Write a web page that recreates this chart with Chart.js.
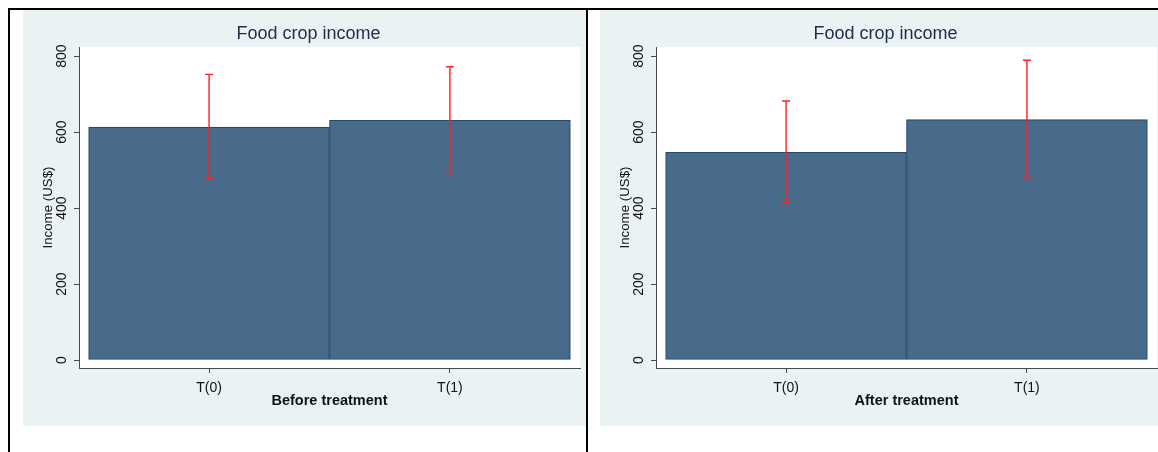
<!DOCTYPE html>
<html>
<head>
<meta charset="utf-8">
<script src="https://cdn.jsdelivr.net/npm/chart.js@4/dist/chart.umd.min.js"></script>
<style>
  html, body { margin: 0; padding: 0; background: #fff; width: 1158px; height: 452px; overflow: hidden; position: relative; }
  canvas { position: absolute; background: #eaf2f3; }
  #before { left: 23px; top: 10px; }
  #after { left: 600px; top: 10px; }
  .rule { position: absolute; background: #000; }
</style>
</head>
<body>
<div class="rule" style="left:8px; top:8px; width:1150px; height:2px;"></div>
<div class="rule" style="left:8px; top:8px; width:2px; height:444px;"></div>
<div class="rule" style="left:586px; top:8px; width:2px; height:444px;"></div>
<canvas id="before" width="563" height="416"></canvas>
<canvas id="after" width="563" height="416"></canvas>
<script>
const groups = ['T(0)', 'T(1)'];
const yTicks = [0, 200, 400, 600, 800];

// mean income with confidence bounds, before treatment
const beforeMean = [613, 631];
const beforeLow = [477, 492];
const beforeHigh = [752, 772];

// after treatment
const afterMean = [547, 633];
const afterLow = [415, 476];
const afterHigh = [682, 789];

const FONT = "'Liberation Sans', Arial, sans-serif";
const AXIS = '#4a4a4a';

// white plot region behind the bars
const plotBg = {
  id: 'plotBg',
  beforeDraw(chart) {
    const { ctx, chartArea: a } = chart;
    ctx.save();
    ctx.fillStyle = '#ffffff';
    ctx.fillRect(a.left, a.top, a.right - a.left, a.bottom - a.top);
    ctx.restore();
  }
};

// red capped range lines on top of each bar
const rangeBars = {
  id: 'rangeBars',
  afterDatasetsDraw(chart, args, opts) {
    const { ctx, scales: { x, y } } = chart;
    ctx.save();
    ctx.strokeStyle = '#ff1f1f';
    ctx.lineWidth = 1.4;
    opts.low.forEach((lo, i) => {
      const px = x.getPixelForValue(i);
      const yLo = y.getPixelForValue(lo);
      const yHi = y.getPixelForValue(opts.high[i]);
      ctx.beginPath();
      ctx.moveTo(px, yLo); ctx.lineTo(px, yHi);
      ctx.moveTo(px - 4, yLo); ctx.lineTo(px + 4, yLo);
      ctx.moveTo(px - 4, yHi); ctx.lineTo(px + 4, yHi);
      ctx.stroke();
    });
    ctx.restore();
  }
};

function makeChart(id, means, low, high, xTitle) {
  new Chart(document.getElementById(id), {
    type: 'bar',
    data: {
      datasets: [{
        data: means.map((v, i) => ({ x: i, y: v })),
        backgroundColor: '#486a8b',
        borderColor: '#244a6d',
        borderWidth: 1.2,
        borderSkipped: false,
        categoryPercentage: 1,
        barPercentage: 1
      }]
    },
    options: {
      responsive: false,
      animation: false,
      layout: { padding: { top: 0, right: 6, bottom: 0, left: 14 } },
      plugins: {
        legend: { display: false },
        tooltip: { enabled: false },
        title: {
          display: true,
          text: 'Food crop income',
          color: '#1e2c4e',
          font: { family: FONT, size: 18, weight: 'normal' },
          padding: { top: 13, bottom: 2.4 }
        },
        rangeBars: { low, high }
      },
      scales: {
        x: {
          type: 'linear',
          offset: false,
          min: -0.54,
          max: 1.54,
          afterBuildTicks: s => { s.ticks = groups.map((g, i) => ({ value: i })); },
          afterFit: s => { s.height = 58; },
          ticks: {
            callback: v => groups[v],
            color: '#111',
            font: { family: FONT, size: 14 },
            padding: 7,
            autoSkip: false,
            maxRotation: 0
          },
          grid: { offset: false, drawOnChartArea: false, color: AXIS, tickLength: 5 },
          border: { display: true, color: AXIS, width: 1 },
          title: {
            display: true,
            text: xTitle,
            color: '#111',
            font: { family: FONT, size: 14.5, weight: 'bold' },
            padding: { top: 0, bottom: 16 }
          }
        },
        y: {
          min: -21,
          max: 824,
          afterBuildTicks: s => { s.ticks = yTicks.map(v => ({ value: v })); },
          afterFit: s => { s.width = 42; },
          ticks: {
            color: '#111',
            font: { family: FONT, size: 14 },
            padding: 0,
            minRotation: 90,
            maxRotation: 90,
            crossAlign: 'center'
          },
          grid: { drawOnChartArea: false, color: AXIS, tickLength: 5 },
          border: { display: true, color: AXIS, width: 1 },
          title: {
            display: true,
            text: 'Income (US$)',
            color: '#111',
            font: { family: FONT, size: 13.3 },
            padding: { top: 3, bottom: 0 }
          }
        }
      }
    },
    plugins: [plotBg, rangeBars]
  });
}

makeChart('before', beforeMean, beforeLow, beforeHigh, 'Before treatment');
makeChart('after', afterMean, afterLow, afterHigh, 'After treatment');
</script>
</body>
</html>
